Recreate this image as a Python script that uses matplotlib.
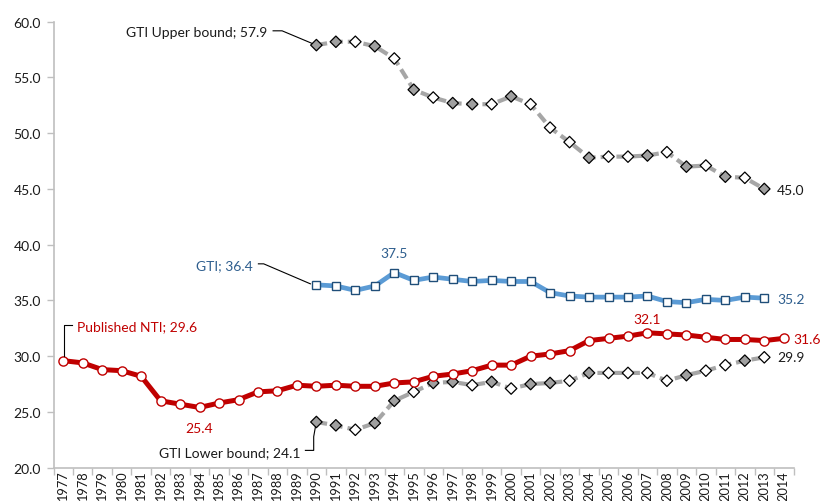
import matplotlib
matplotlib.use("Agg")
import matplotlib.pyplot as plt
from matplotlib.transforms import IdentityTransform
from matplotlib.lines import Line2D
from matplotlib.ticker import FixedLocator, FuncFormatter

# ---------------- data ----------------
years = list(range(1977, 2015))
gti_years = list(range(1990, 2014))

nti = [29.6, 29.4, 28.8, 28.7, 28.2, 26.0, 25.7, 25.4, 25.8, 26.1,
       26.8, 26.9, 27.4, 27.3, 27.4, 27.3, 27.3, 27.6, 27.7, 28.2,
       28.4, 28.7, 29.2, 29.2, 30.0, 30.2, 30.5, 31.4, 31.6, 31.8,
       32.1, 32.0, 31.9, 31.7, 31.5, 31.5, 31.4, 31.6]

gti = [36.4, 36.3, 35.9, 36.3, 37.5, 36.8, 37.1, 36.9, 36.7, 36.8,
       36.7, 36.7, 35.7, 35.4, 35.3, 35.3, 35.3, 35.4, 34.9, 34.8,
       35.1, 35.0, 35.3, 35.2]

gti_upper = [57.9, 58.2, 58.2, 57.8, 56.7, 53.9, 53.2, 52.7, 52.6, 52.6,
             53.3, 52.6, 50.5, 49.2, 47.8, 47.9, 47.9, 48.0, 48.3, 47.0,
             47.1, 46.1, 46.0, 45.0]

gti_lower = [24.1, 23.8, 23.4, 24.0, 26.0, 26.8, 27.6, 27.7, 27.4, 27.7,
             27.1, 27.5, 27.6, 27.8, 28.5, 28.5, 28.5, 28.5, 27.8, 28.3,
             28.7, 29.2, 29.6, 29.9]

y_ticks = [20, 25, 30, 35, 40, 45, 50, 55, 60]

# marker fill pattern (style) for the bound series
G, W = "#A0A0A0", "white"
upper_fill = [G, G, W, G, W, G, W, G, G, W, G, W, W, W, G, W, W, G, W, G, W, G, W, G]
lower_fill = [G, G, W, G, G, W, G, G, W, G, W, G, G, W, G, W, W, W, W, G, W, W, G, W]

# ---------------- style ----------------
plt.rcParams['font.family'] = ['Lato', 'DejaVu Sans']
FS = 10
RED = "#C00000"
BLUE_LINE = "#5B9BD5"
BLUE_EDGE = "#1F4E79"
BLUE_TEXT = "#2E5E8E"
GRAY_LINE = "#A6A6A6"
AXIS_GRAY = "#BFBFBF"
TXT = "#1A1A1A"

fig = plt.figure(figsize=(8.22, 5.02), dpi=100)
ax = fig.add_axes([53.5 / 822, 1 - 468.7 / 502, (793.5 - 53.5) / 822, (468.7 - 22.7) / 502])

xi = {y: i for i, y in enumerate(years)}
x_all = [xi[y] for y in years]
x_gti = [xi[y] for y in gti_years]

# bound series (dashed gray, diamonds)
for vals, fills in ((gti_upper, upper_fill), (gti_lower, lower_fill)):
    ax.plot(x_gti, vals, color=GRAY_LINE, lw=3.0, dashes=(2.6, 1.2),
            dash_capstyle='butt', zorder=2)
    ax.scatter(x_gti, vals, marker='D', s=34, facecolors=fills,
               edgecolors='black', linewidths=0.9, zorder=3)

# GTI (blue, squares)
ax.plot(x_gti, gti, color=BLUE_LINE, lw=3.4, marker='s', ms=6.2,
        mfc='white', mec=BLUE_EDGE, mew=1.0, zorder=4, solid_joinstyle='round')

# Published NTI (red, circles)
ax.plot(x_all, nti, color=RED, lw=3.6, marker='o', ms=6.6,
        mfc='white', mec=RED, mew=1.0, zorder=5, solid_joinstyle='round')

# ---------------- axes ----------------
ax.set_xlim(-0.5, len(years) - 0.5)
ax.set_ylim(20, 60)
ax.set_yticks(y_ticks)
ax.yaxis.set_major_formatter(FuncFormatter(lambda v, p: f"{v:.1f}"))
ax.set_xticks(x_all)
ax.set_xticklabels([str(y) for y in years], rotation=90)
ax.xaxis.set_minor_locator(FixedLocator([i - 0.5 for i in range(len(years) + 1)]))
ax.tick_params(axis='x', which='major', length=0, pad=2, labelsize=9.2, colors=TXT)
ax.tick_params(axis='x', which='minor', length=5, color=AXIS_GRAY, width=1)
ax.tick_params(axis='y', which='major', length=5, color=AXIS_GRAY, width=1,
               labelsize=FS, labelcolor=TXT, pad=4)
for s in ('top', 'right'):
    ax.spines[s].set_visible(False)
for s in ('left', 'bottom'):
    ax.spines[s].set_color(AXIS_GRAY)
    ax.spines[s].set_linewidth(1.2)

fig.canvas.draw()

def disp(xd, yd):
    return ax.transData.transform((xd, yd))

def leader(xd, yd, offsets):
    px, py = disp(xd, yd)
    xs = [px + dx for dx, dy in offsets]
    ys = [py + dy for dx, dy in offsets]
    fig.add_artist(Line2D(xs, ys, transform=IdentityTransform(), color='black',
                          lw=0.8, zorder=10))

def label(xd, yd, text, dx, dy, color, ha):
    ax.annotate(text, (xd, yd), xytext=(dx, dy), textcoords='offset pixels',
                ha=ha, va='center', color=color, fontsize=FS, zorder=10)

# leader-line labels
i0 = xi[1990]
label(i0, gti_upper[0], f"GTI Upper bound; {gti_upper[0]:.1f}", -49, 13, TXT, 'right')
leader(i0, gti_upper[0], [(-43.3, 14.3), (-34.3, 14.3), (-4.3, 1.7)])

label(i0, gti[0], f"GTI; {gti[0]:.1f}", -64, 19.3, BLUE_TEXT, 'right')
leader(i0, gti[0], [(-58, 21), (-52.7, 21), (-6, 1)])

label(0, nti[0], f"Published NTI; {nti[0]:.1f}", 13.4, 34.6, RED, 'left')
leader(0, nti[0], [(8.4, 36), (1, 36), (1, 5)])

label(i0, gti_lower[0], f"GTI Lower bound; {gti_lower[0]:.1f}", -16, -30, TXT, 'right')
leader(i0, gti_lower[0], [(-11, -28.4), (-2.7, -28.4), (-2.7, -14.7), (-1, -5)])

# point value labels
imax_g = gti.index(max(gti))
label(x_gti[imax_g], gti[imax_g], f"{gti[imax_g]:.1f}", 0, 19.5, BLUE_TEXT, 'center')
imin_n = nti.index(min(nti))
label(imin_n, nti[imin_n], f"{nti[imin_n]:.1f}", 0, -21, RED, 'center')
imax_n = nti.index(max(nti))
label(imax_n, nti[imax_n], f"{nti[imax_n]:.1f}", 0, 14, RED, 'center')

label(x_gti[-1], gti_upper[-1], f"{gti_upper[-1]:.1f}", 13, -1.5, TXT, 'left')
label(x_gti[-1], gti[-1], f"{gti[-1]:.1f}", 13, -1, BLUE_TEXT, 'left')
label(x_all[-1], nti[-1], f"{nti[-1]:.1f}", 10, -1, RED, 'left')
label(x_gti[-1], gti_lower[-1], f"{gti_lower[-1]:.1f}", 13, 0, TXT, 'left')

fig.savefig("out.png", dpi=100)
